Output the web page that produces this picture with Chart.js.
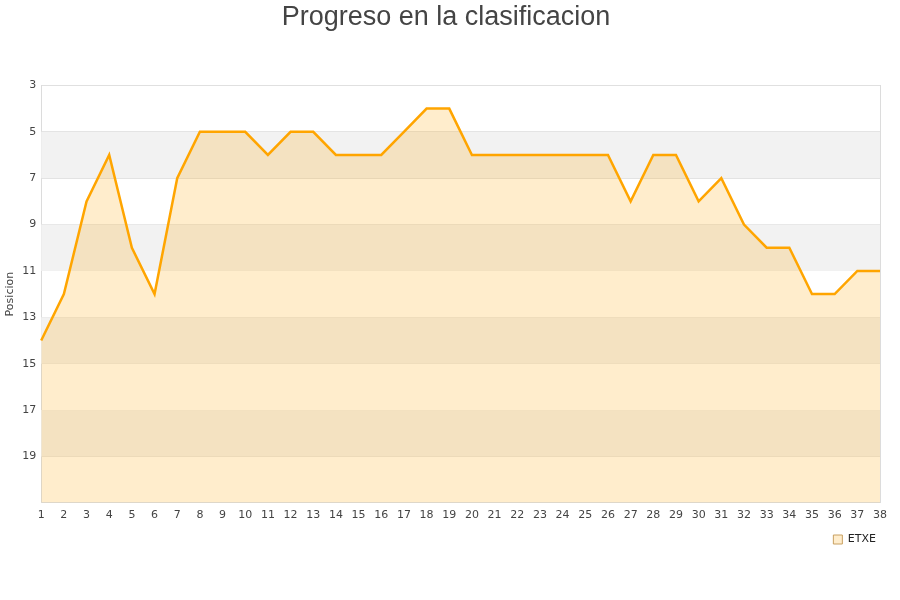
<!DOCTYPE html>
<html>
<head>
<meta charset="utf-8">
<script src="https://cdn.jsdelivr.net/npm/chart.js@4"></script>
<style>
  html, body { margin: 0; padding: 0; background: #fff; }
  #wrap { width: 900px; height: 600px; }
</style>
</head>
<body>
<div id="wrap"><canvas id="chart" width="900" height="600"></canvas></div>
<script>
// ---- data ----
var jornadas = [];
for (var j = 1; j <= 38; j++) jornadas.push(String(j));
var posiciones = [14, 12, 8, 6, 10, 12, 7, 5, 5, 5, 6, 5, 5, 6, 6, 6, 5, 4, 4, 6,
                  6, 6, 6, 6, 6, 6, 8, 6, 6, 8, 7, 9, 10, 10, 12, 12, 11, 11];
var equipo = "ETXE";
var bandas = [[5, 7], [9, 11], [13, 15], [17, 19]];

// grey horizontal bands behind the area
var bandPlugin = {
  id: "bands",
  beforeDatasetsDraw: function (chart) {
    var ctx = chart.ctx, y = chart.scales.y, area = chart.chartArea;
    ctx.save();
    ctx.fillStyle = "#f2f2f2";
    bandas.forEach(function (b) {
      var y0 = y.getPixelForValue(b[0]), y1 = y.getPixelForValue(b[1]);
      ctx.fillRect(area.left, Math.min(y0, y1), area.right - area.left, Math.abs(y1 - y0));
    });
    ctx.restore();
  }
};

new Chart(document.getElementById("chart"), {
  type: "line",
  plugins: [bandPlugin],
  data: {
    labels: jornadas,
    datasets: [{
      label: equipo,
      data: posiciones,
      borderColor: "#ffa500",
      backgroundColor: "rgba(255,165,0,0.2)",
      borderWidth: 2.5,
      pointRadius: 0,
      tension: 0,
      fill: "start"
    }]
  },
  options: {
    responsive: false,
    animation: false,
    layout: { padding: { left: 4, right: 12, top: 0, bottom: 45 } },
    plugins: {
      title: {
        display: true,
        text: "Progreso en la clasificacion",
        color: "#444",
        font: { family: "Liberation Sans, Arial, sans-serif", size: 27, weight: "normal" },
        padding: { top: 1, bottom: 52 }
      },
      legend: {
        position: "bottom",
        align: "end",
        labels: {
          color: "#222",
          boxWidth: 9,
          boxHeight: 9,
          padding: 12,
          font: { family: "DejaVu Sans", size: 11 },
          generateLabels: function (chart) {
            return [{ text: equipo, fillStyle: "rgba(255,165,0,0.2)", strokeStyle: "#c8a060",
                      lineWidth: 1, fontColor: "#222", datasetIndex: 0 }];
          }
        }
      },
      tooltip: { enabled: false }
    },
    scales: {
      x: {
        offset: false,
        grid: { display: false, drawTicks: true, tickLength: 6 },
        border: { color: "#dcdcdc" },
        ticks: { color: "#444", font: { family: "DejaVu Sans", size: 11 }, maxRotation: 0, autoSkip: false, padding: 0 }
      },
      y: {
        reverse: true,
        min: 3,
        max: 21,
        title: { display: true, text: "Posicion", color: "#444", font: { family: "DejaVu Sans", size: 11 }, padding: 0 },
        ticks: {
          stepSize: 2,
          color: "#444",
          font: { family: "DejaVu Sans", size: 11 },
          padding: 5,
          callback: function (v) { return v === 21 ? "" : v; }
        },
        grid: { color: "#e0e0e0", drawTicks: false },
        border: { color: "#dcdcdc" }
      },
      y2: {
        position: "right",
        reverse: true, min: 3, max: 21,
        ticks: { display: false },
        grid: { display: false },
        border: { color: "#dcdcdc" }
      }
    }
  }
});
</script>
</body>
</html>
